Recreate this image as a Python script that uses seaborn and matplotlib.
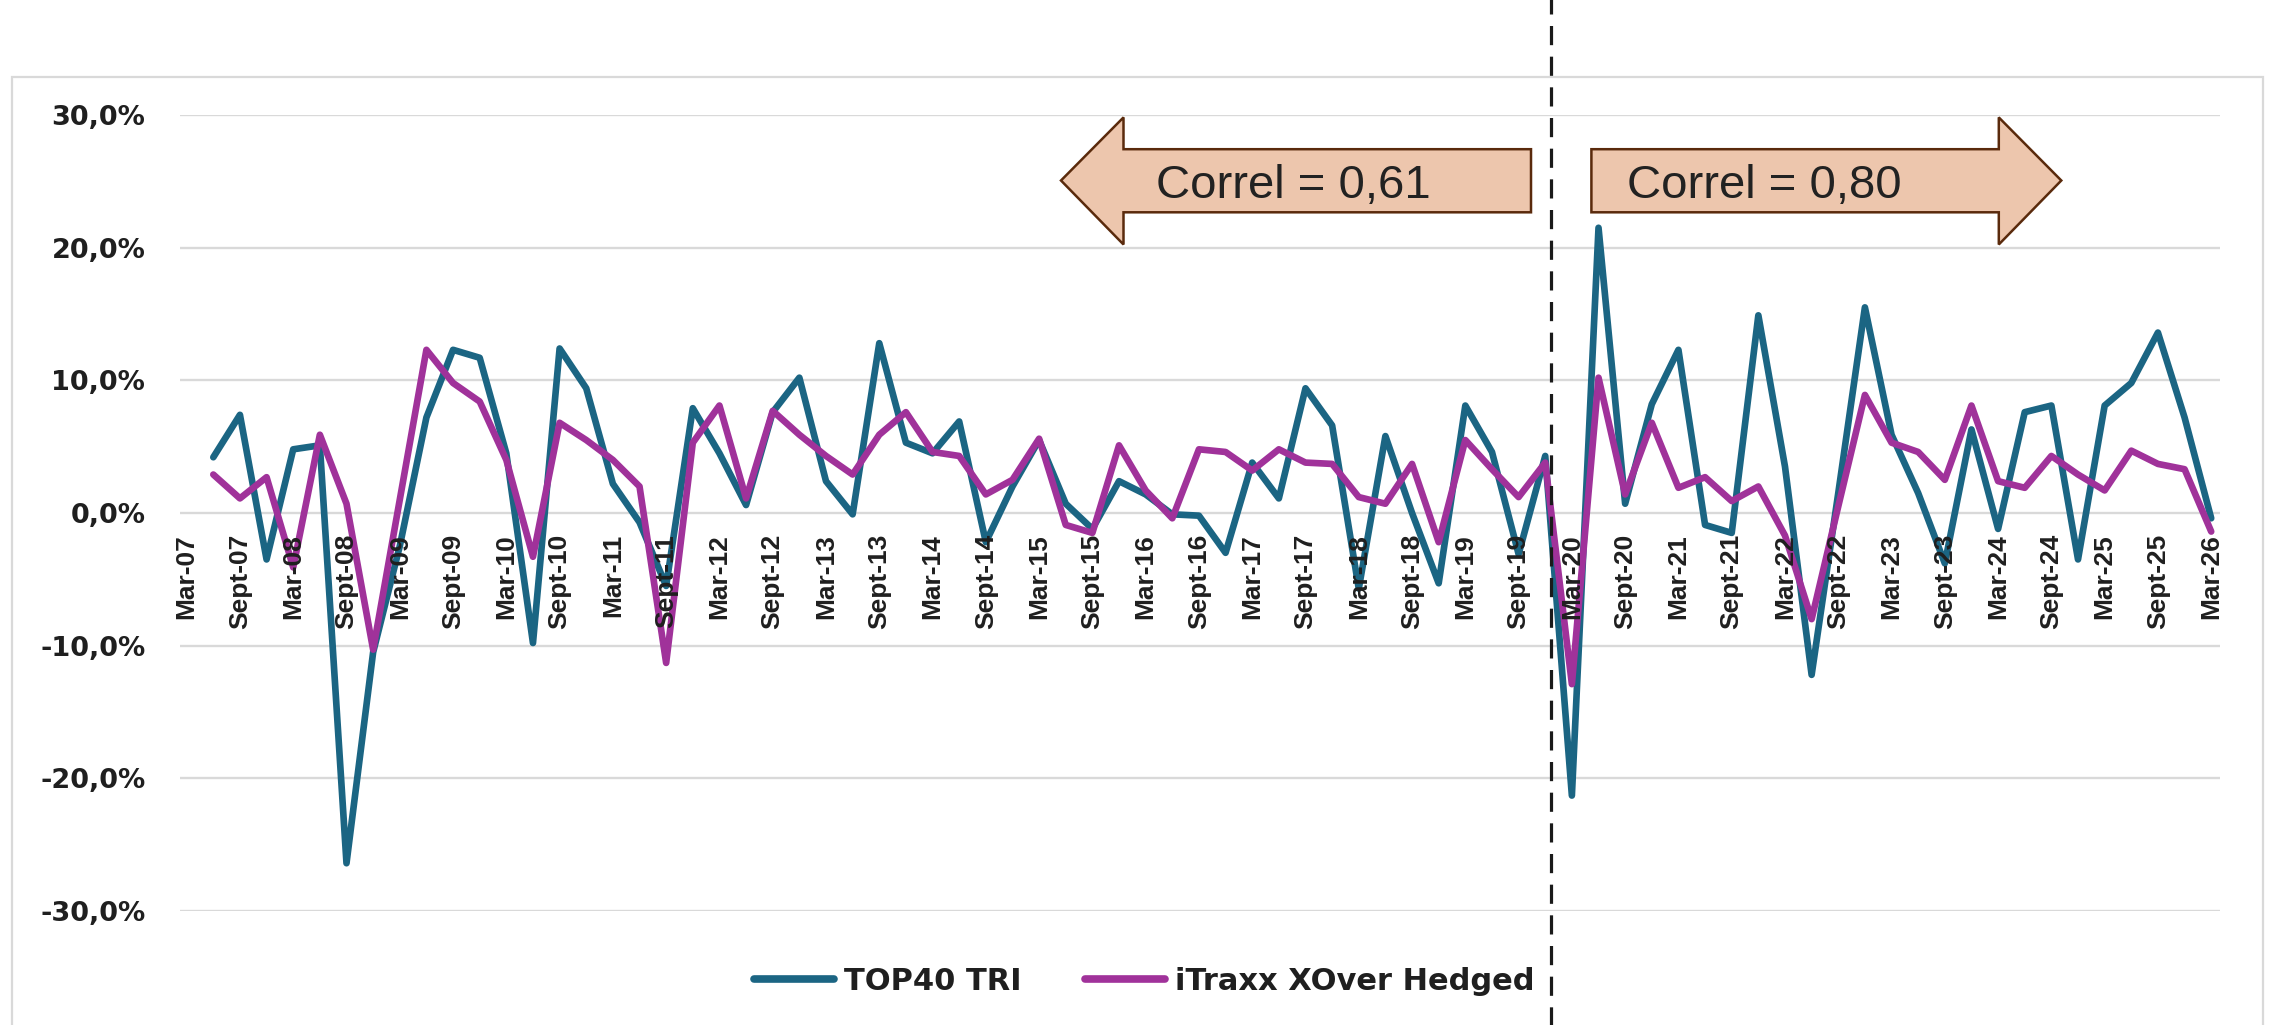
import numpy as np
import pandas as pd
import matplotlib
matplotlib.use("Agg")
import matplotlib.pyplot as plt
import seaborn as sns
from matplotlib import font_manager
from matplotlib.patches import Polygon, Rectangle
from matplotlib.lines import Line2D

# ---------------- data ----------------
tick_labels = ["Mar-07", "Sept-07", "Mar-08", "Sept-08", "Mar-09", "Sept-09", "Mar-10",
               "Sept-10", "Mar-11", "Sept-11", "Mar-12", "Sept-12", "Mar-13", "Sept-13",
               "Mar-14", "Sept-14", "Mar-15", "Sept-15", "Mar-16", "Sept-16", "Mar-17",
               "Sept-17", "Mar-18", "Sept-18", "Mar-19", "Sept-19", "Mar-20", "Sept-20",
               "Mar-21", "Sept-21", "Mar-22", "Sept-22", "Mar-23", "Sept-23", "Mar-24",
               "Sept-24", "Mar-25", "Sept-25", "Mar-26"]

series_names = ["TOP40 TRI", "iTraxx XOver Hedged"]

# quarterly returns (%), Jun-07 .. Mar-26
top40_tri = [4.2, 7.4, -3.5, 4.8, 5.1, -26.4, -10.5, -2.5, 7.2, 12.3,
             11.7, 4.5, -9.8, 12.4, 9.4, 2.2, -0.7, -5.5, 7.9, 4.5,
             0.6, 7.6, 10.2, 2.4, -0.1, 12.8, 5.3, 4.5, 6.9, -2.2,
             2.0, 5.5, 0.7, -1.2, 2.4, 1.4, -0.1, -0.2, -3.0, 3.8,
             1.1, 9.4, 6.6, -5.7, 5.8, 0.0, -5.3, 8.1, 4.6, -3.1,
             4.3, -21.3, 21.5, 0.7, 8.2, 12.3, -0.9, -1.5, 14.9, 3.5,
             -12.2, 1.5, 15.5, 5.9, 1.5, -3.8, 6.3, -1.2, 7.6, 8.1,
             -3.5, 8.1, 9.8, 13.6, 7.2, -0.4]

itraxx_xover = [2.9, 1.1, 2.7, -4.1, 5.9, 0.7, -10.3, 1.0, 12.3, 9.8,
                8.4, 4.0, -3.3, 6.8, 5.5, 4.0, 2.0, -11.3, 5.3, 8.1,
                1.1, 7.7, 5.9, 4.3, 2.9, 5.9, 7.6, 4.6, 4.3, 1.4,
                2.5, 5.6, -0.9, -1.5, 5.1, 1.7, -0.4, 4.8, 4.6, 3.2,
                4.8, 3.8, 3.7, 1.2, 0.7, 3.7, -2.2, 5.5, 3.3, 1.2,
                3.8, -12.9, 10.2, 1.4, 6.8, 1.9, 2.7, 0.9, 2.0, -1.7,
                -8.0, 0.5, 8.9, 5.3, 4.6, 2.5, 8.1, 2.4, 1.9, 4.3,
                2.9, 1.7, 4.7, 3.7, 3.3, -1.4]

correl_labels = ["Correl = 0,61", "Correl = 0,80"]
y_ticks = [-30, -20, -10, 0, 10, 20, 30]

# ---------------- style ----------------
sns.set_theme(style="white")
names = {f.name for f in font_manager.fontManager.ttflist}
narrow = "Liberation Sans Narrow" if "Liberation Sans Narrow" in names else "Liberation Sans"
xtick_size = 23 if narrow == "Liberation Sans Narrow" else 19
plt.rcParams["font.family"] = ["DejaVu Sans"]

TEAL = "#1b6583"
MAGENTA = "#a0329a"
GRID = "#d9d9d9"
TXT = "#1f1f1f"

W, H = 2275, 1025
fig = plt.figure(figsize=(W / 100, H / 100), dpi=100)
fig.patch.set_facecolor("white")

def fx(px):
    return px / W

def fy(py):
    return 1 - py / H

ax = fig.add_axes([fx(180), fy(911), fx(2220) - fx(180), fy(115) - fy(911)])
ax.set_facecolor("none")

# chart-area border (extends below the picture)
fig.add_artist(Rectangle((fx(12), -0.05), fx(2263) - fx(12), fy(77) + 0.05,
                         transform=fig.transFigure, fill=False, edgecolor=GRID,
                         linewidth=1.6, zorder=0))

n = len(top40_tri)
q = np.arange(1, n + 1)
df = pd.DataFrame({
    "q": np.concatenate([q, q]),
    "ret": top40_tri + itraxx_xover,
    "series": [series_names[0]] * n + [series_names[1]] * n,
})

sns.lineplot(data=df, x="q", y="ret", hue="series",
             palette={series_names[0]: TEAL, series_names[1]: MAGENTA},
             hue_order=series_names, linewidth=4.8, legend=False, sort=False,
             ax=ax, zorder=3)

# axis at y = 0 (set before tick labels, since moving a spine resets ticks)
for s in ["top", "right", "left"]:
    ax.spines[s].set_visible(False)
ax.spines["bottom"].set_position(("data", 0))
ax.spines["bottom"].set_visible(False)

ax.set_ylim(-30, 30)
ax.set_xlim(-0.25, 76.33)
ax.set_yticks(y_ticks)
ax.set_yticklabels([f"{v:.1f}%".replace(".", ",") for v in y_ticks],
                   fontsize=19.5, fontweight="bold", color=TXT)
ax.grid(False)
for v in y_ticks:
    ax.axhline(v, color=GRID, linewidth=1.7, zorder=0.5)

ax.set_xticks(np.arange(0, 2 * len(tick_labels), 2))
ax.set_xticklabels(tick_labels, rotation=90, fontsize=xtick_size, fontweight="bold",
                   color=TXT, family=[narrow, "DejaVu Sans"])
ax.tick_params(axis="x", length=0, pad=15)
ax.tick_params(axis="y", length=0, pad=25)
ax.xaxis.set_zorder(5)
ax.set_xlabel("")
ax.set_ylabel("")

# dashed separator spanning the whole picture
ax.axvline(51.2, ymin=-0.15, ymax=1.16, clip_on=False, color="#1a1a1a",
           linewidth=2.3, linestyle=(0, (6, 3.6)), zorder=6)

# correlation arrows
ARROW_FACE = "#edc6ad"
ARROW_EDGE = "#5a2a0c"
left_arrow = [(1061, 180.5), (1123.5, 117.4), (1123.5, 149.2), (1531, 149.2),
              (1531, 212.3), (1123.5, 212.3), (1123.5, 244.5)]
right_arrow = [(2061.3, 180.5), (1998.8, 117.4), (1998.8, 149.2), (1591.4, 149.2),
               (1591.4, 212.3), (1998.8, 212.3), (1998.8, 244.5)]
for pts in (left_arrow, right_arrow):
    fig.add_artist(Polygon([(fx(x), fy(y)) for x, y in pts], closed=True,
                           transform=fig.transFigure, facecolor=ARROW_FACE,
                           edgecolor=ARROW_EDGE, linewidth=1.8, zorder=7))
fig.text(fx(1293), fy(198.5), correl_labels[0], ha="center", va="baseline",
         fontsize=34, color="#222222", family=["Liberation Sans", "DejaVu Sans"], zorder=8)
fig.text(fx(1764), fy(198.5), correl_labels[1], ha="center", va="baseline",
         fontsize=34, color="#222222", family=["Liberation Sans", "DejaVu Sans"], zorder=8)

# legend
handles = [Line2D([], [], color=TEAL, linewidth=5.5),
           Line2D([], [], color=MAGENTA, linewidth=5.5)]
leg = fig.legend(handles, series_names, loc="center", bbox_to_anchor=(0.503, fy(981)),
                 bbox_transform=fig.transFigure, ncol=2, frameon=False,
                 prop={"weight": "bold", "size": 22}, handlelength=2.6,
                 handletextpad=0.33, columnspacing=2.1, borderpad=0)
for t in leg.get_texts():
    t.set_color(TXT)

fig.savefig("out.png", dpi=100, facecolor="white")
